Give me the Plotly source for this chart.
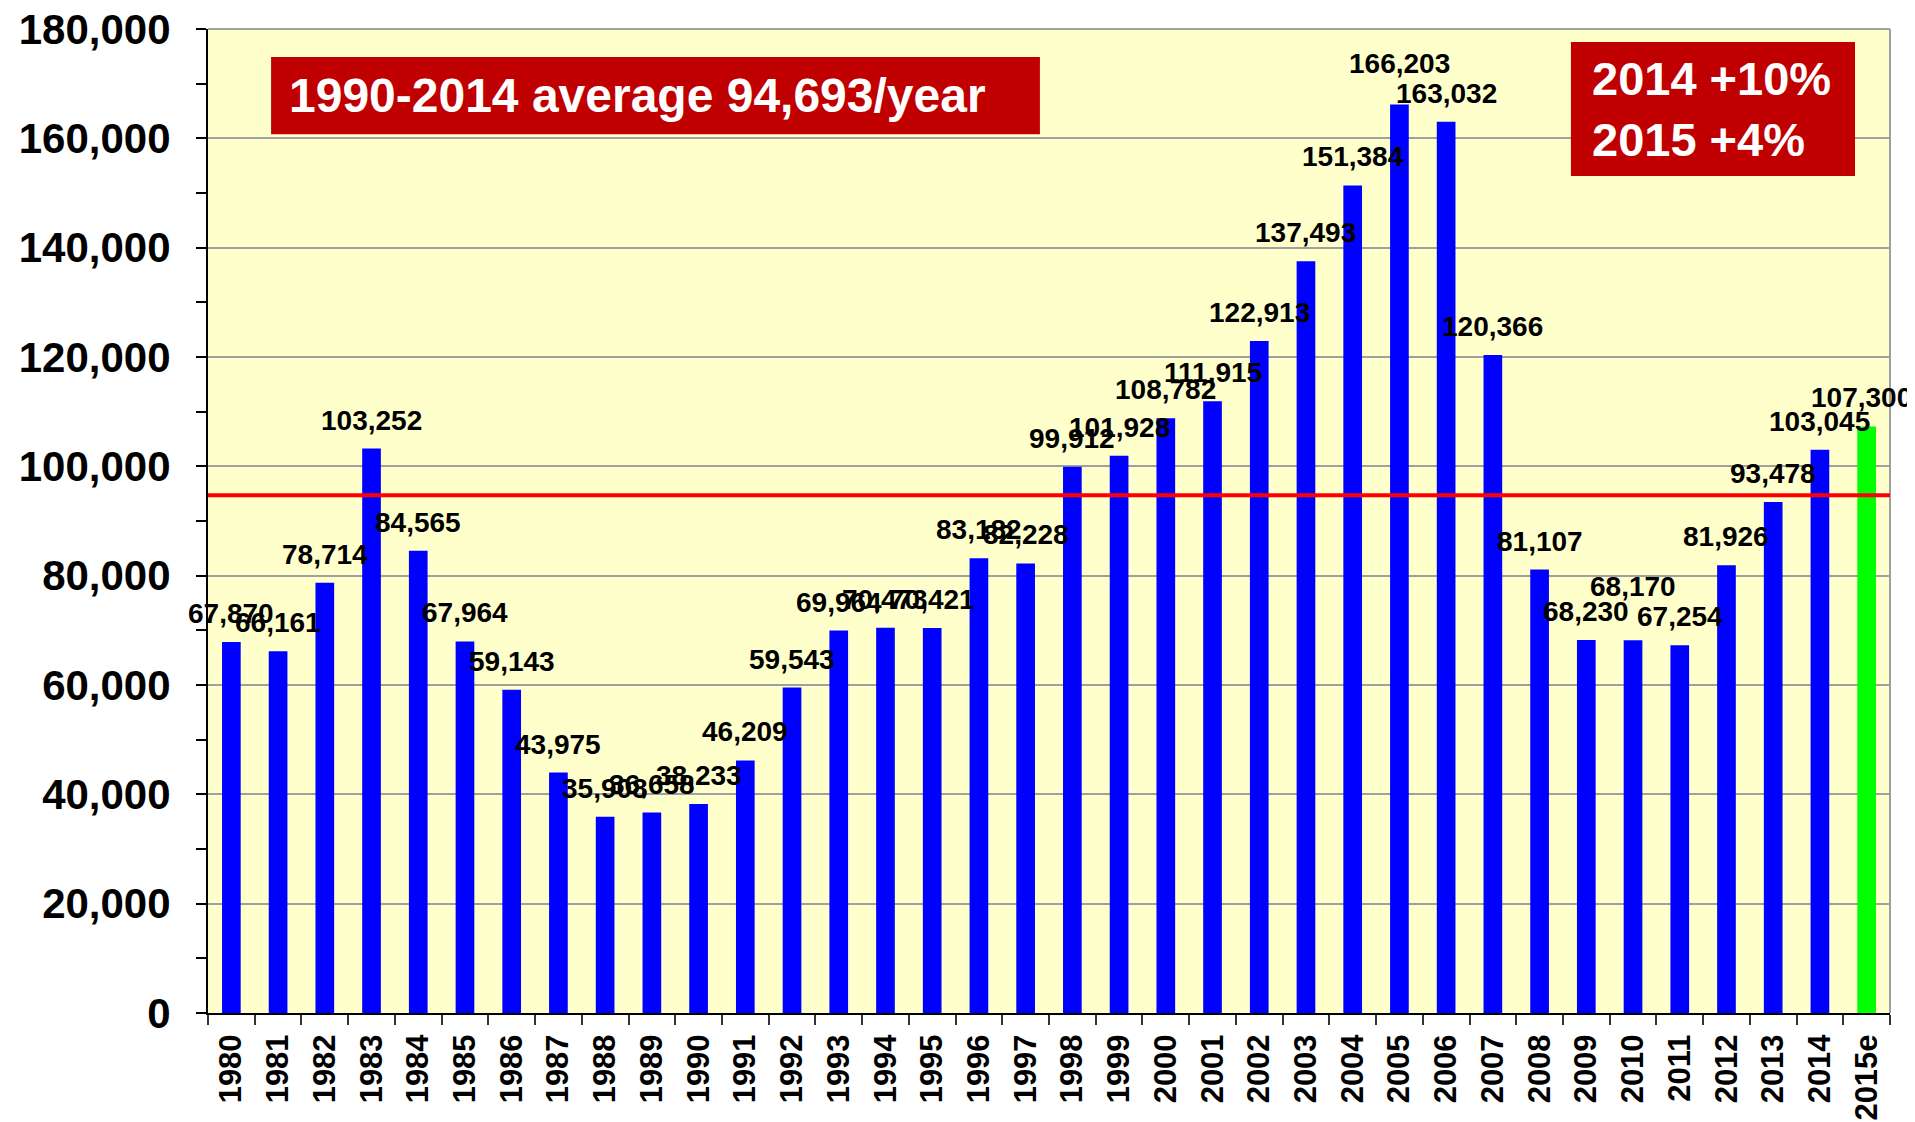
import plotly.graph_objects as go

years = ["1980", "1981", "1982", "1983", "1984", "1985", "1986", "1987", "1988", "1989",
         "1990", "1991", "1992", "1993", "1994", "1995", "1996", "1997", "1998", "1999",
         "2000", "2001", "2002", "2003", "2004", "2005", "2006", "2007", "2008", "2009",
         "2010", "2011", "2012", "2013", "2014", "2015e"]
values = [67870, 66161, 78714, 103252, 84565, 67964, 59143, 43975, 35908, 36658,
          38233, 46209, 59543, 69964, 70473, 70421, 83182, 82228, 99912, 101928,
          108782, 111915, 122913, 137493, 151384, 166203, 163032, 120366, 81107, 68230,
          68170, 67254, 81926, 93478, 103045, 107300]
AVERAGE = 94693
avg_label = "1990-2014 average 94,693/year"
growth_label = "2014 +10%<br>2015 +4%"
y_ticks = [0, 20000, 40000, 60000, 80000, 100000, 120000, 140000, 160000, 180000]

colors = ["#0000FF"] * (len(years) - 1) + ["#00FF00"]

FONT = "Arial, Liberation Sans, sans-serif"

# extra pixel offsets for a few manually moved value labels
label_lift = {"2005": 12, "2010": 25}
label_nudge_x = {"2015e": -5}

fig = go.Figure()
fig.add_trace(go.Bar(
    x=years, y=values, width=0.4,
    marker=dict(color=colors, line=dict(width=0)),
    hoverinfo="x+y",
))

annotations = []
for i, (yr, v) in enumerate(zip(years, values)):
    annotations.append(dict(
        x=i, y=v, xref="x", yref="y", text=f"<b>{v:,}</b>", showarrow=False,
        yanchor="bottom", xanchor="center", yshift=11 + label_lift.get(yr, 0),
        xshift=label_nudge_x.get(yr, 0),
        font=dict(family=FONT, size=28, color="black"),
    ))

annotations.append(dict(
    x=0.2553, y=0.9326, xref="paper", yref="paper", text=f"<b>{avg_label}</b>",
    showarrow=False, xanchor="center", yanchor="middle",
    font=dict(family=FONT, size=48, color="white"),
))
annotations.append(dict(
    x=0.8216, y=0.9187, xref="paper", yref="paper", text=f"<b>{growth_label}</b>",
    showarrow=False, xanchor="left", yanchor="middle", align="left",
    font=dict(family=FONT, size=47, color="white"),
))

shapes = [
    dict(type="rect", xref="paper", yref="paper", x0=0.0375, x1=0.4946, y0=0.893, y1=0.9715,
         fillcolor="#C00000", line=dict(width=0), layer="above"),
    dict(type="rect", xref="paper", yref="paper", x0=0.8103, x1=0.9792, y0=0.8506, y1=0.9868,
         fillcolor="#C00000", line=dict(width=0), layer="above"),
    dict(type="line", xref="paper", yref="y", x0=0, x1=1, y0=AVERAGE, y1=AVERAGE,
         line=dict(color="#FF0000", width=4), layer="above"),
    dict(type="line", xref="paper", yref="paper", x0=1, x1=1, y0=0, y1=1,
         line=dict(color="#A0A0A0", width=2), layer="below"),
    dict(type="line", xref="paper", yref="paper", x0=0, x1=1, y0=1, y1=1,
         line=dict(color="#A0A0A0", width=2), layer="below"),
]

fig.update_layout(
    width=1907, height=1114,
    margin=dict(l=200, r=25, t=21, b=109, autoexpand=False),
    plot_bgcolor="#FFFFCC", paper_bgcolor="white",
    showlegend=False,
    annotations=annotations,
    shapes=shapes,
    xaxis=dict(
        type="category", tickson="boundaries", ticks="outside", ticklen=10, tickwidth=2,
        tickcolor="#333333", tickangle=-90, showgrid=False, automargin=False,
        ticklabelstandoff=7, ticklabeloverflow="allow",
        tickfont=dict(family=FONT, size=31, color="black", weight="bold"),
        showline=True, linecolor="black", linewidth=2,
        range=[-0.5, len(years) - 0.5],
    ),
    yaxis=dict(
        range=[0, 180000], tickvals=y_ticks, tickformat=",d", automargin=False,
        ticks="outside", ticklen=10, tickwidth=2, tickcolor="black",
        ticklabelstandoff=17, ticklabeloverflow="allow",
        tickfont=dict(family=FONT, size=42, color="black", weight="bold"),
        showgrid=True, gridcolor="#A0A0A0", gridwidth=2,
        showline=True, linecolor="black", linewidth=2,
        zeroline=False,
        minor=dict(ticks="outside", dtick=10000, ticklen=10, tickwidth=1.5,
                   tickcolor="black", showgrid=False),
    ),
)

fig.write_html("out.html")
